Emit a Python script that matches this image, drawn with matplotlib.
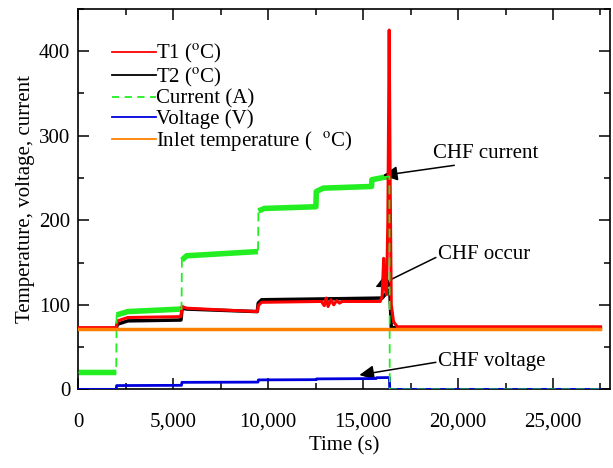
import numpy as np
import matplotlib.pyplot as plt
from matplotlib.lines import Line2D
from matplotlib.ticker import MultipleLocator, FuncFormatter

plt.rcParams['font.family'] = ['Liberation Serif', 'DejaVu Serif']
plt.rcParams['mathtext.fontset'] = 'stix'

# T1 thermocouple (red)
t1_t = [0, 1990, 2050, 2600, 5400, 5460, 5700, 7500, 9420, 9470, 9650, 12800,
        12950, 13050, 13150, 13300, 13450, 13600, 13750, 13900, 15900, 16000,
        16080, 16150, 16230, 16300, 16370, 16420, 16480, 16600, 16800, 27500]
t1_v = [73, 73, 81, 85, 86, 98, 96, 94, 92, 99, 103, 104,
        99, 108, 98, 106, 100, 105, 102, 104, 104, 110,
        155, 120, 112, 200, 425, 250, 100, 80, 74, 74]

# T2 thermocouple (black)
t2_t = [0, 1990, 2050, 2600, 5400, 5460, 5700, 9420, 9470, 9650, 13000, 16000,
        16150, 16300, 16400, 16480, 27500]
t2_v = [72, 72, 77, 81, 82, 96, 95, 92, 102, 106, 107, 108,
        112, 115, 118, 73, 73]

# heating current (green)
current_t = [0, 1990, 2010, 2600, 5430, 5450, 5700, 9460, 9480, 9800, 12510,
             12530, 12900, 15440, 15460, 16380, 16400, 27500]
current_v = [20, 20, 88, 92, 95, 153, 158, 163, 211, 214, 216,
             234, 238, 240, 248, 252, 0, 0]

# voltage (blue)
voltage_t = [0, 1990, 2010, 5430, 5450, 9460, 9480, 12530, 12550, 15680, 15700,
             16380, 16400, 27500]
voltage_v = [0, 0, 4.5, 4.8, 8.3, 8.6, 11.2, 11.5, 12.4, 12.8, 13.8, 14.0, 0, 0]

# inlet temperature (orange)
inlet_t = [0, 27500]
inlet_v = [71, 71]

fs = 15
green = '#22ee22'
blue = '#0000dd'
orange = '#ff8000'

fig = plt.figure(figsize=(6.13, 4.68), dpi=100)
ax = fig.add_axes([0.128, 0.168, 0.867, 0.813])

ax.plot(t2_t, t2_v, color='black', lw=2.5, zorder=3)
ax.plot(t1_t, t1_v, color='red', lw=2.2, zorder=4)

# noisy plateaus look solid, the jumps between them stay dashed
bt, bv = [], []
for i in range(len(current_t)):
    if i > 0 and abs(current_v[i] - current_v[i - 1]) > 30:
        bt.append(np.nan)
        bv.append(np.nan)
    bt.append(current_t[i])
    bv.append(current_v[i] if current_v[i] > 1 else np.nan)
ax.plot(bt, bv, color=green, lw=4, solid_capstyle='butt', zorder=2)
ax.plot(current_t, current_v, color=green, lw=1.3, ls=(0, (5, 3)), zorder=5)
ax.plot(voltage_t, voltage_v, color=blue, lw=2, zorder=4)
ax.plot(inlet_t, inlet_v, color=orange, lw=2.5, zorder=6)

ax.set_xlim(0, 28000)
ax.set_ylim(0, 450)
ax.xaxis.set_major_locator(MultipleLocator(5000))
ax.xaxis.set_minor_locator(MultipleLocator(2500))
ax.yaxis.set_major_locator(MultipleLocator(100))
ax.yaxis.set_minor_locator(MultipleLocator(50))
ax.xaxis.set_major_formatter(FuncFormatter(lambda x, p: '{:,.0f}'.format(x)))
ax.tick_params(which='both', direction='in', top=True, right=True, width=1.1,
               labelsize=fs)
ax.tick_params(which='major', length=8)
ax.tick_params(which='minor', length=4)
ax.tick_params(axis='x', pad=17)
ax.tick_params(axis='y', pad=6)
for s in ax.spines.values():
    s.set_linewidth(1.2)

ax.set_xlabel('Time (s)', fontsize=fs, labelpad=3)
ax.set_ylabel('Temperature, voltage, current', fontsize=fs, labelpad=3)

handles = [Line2D([], [], color='red', lw=1.3),
           Line2D([], [], color='black', lw=1.3),
           Line2D([], [], color=green, lw=1.3, ls=(0, (4, 3))),
           Line2D([], [], color=blue, lw=1.3),
           Line2D([], [], color=orange, lw=1.3)]
labels = ['T1 ($^{\\rm o}$C)', 'T2 ($^{\\rm o}$C)', 'Current (A)',
          'Voltage (V)', 'Inlet temperature (  $^{\\rm o}$C)']
ax.legend(handles, labels, loc='upper left', bbox_to_anchor=(0.063, 0.912),
          frameon=False, fontsize=fs, borderpad=0, borderaxespad=0,
          handlelength=2.1, handletextpad=0, labelspacing=0.02)

arrow = dict(arrowstyle='-|>', color='black', lw=1.1, mutation_scale=22,
             shrinkA=0, shrinkB=0)
ax.annotate('', xy=(16040, 253), xytext=(19800, 265), arrowprops=arrow)
ax.text(18700, 279, 'CHF current', fontsize=fs, va='center', ha='left')
ax.annotate('', xy=(15650, 121), xytext=(18830, 156), arrowprops=arrow)
ax.text(18950, 159, 'CHF occur', fontsize=fs, va='center', ha='left')
ax.annotate('', xy=(14800, 17), xytext=(18830, 32), arrowprops=arrow)
ax.text(18950, 33, 'CHF voltage', fontsize=fs, va='center', ha='left')

fig.savefig('out.png', dpi=100)
